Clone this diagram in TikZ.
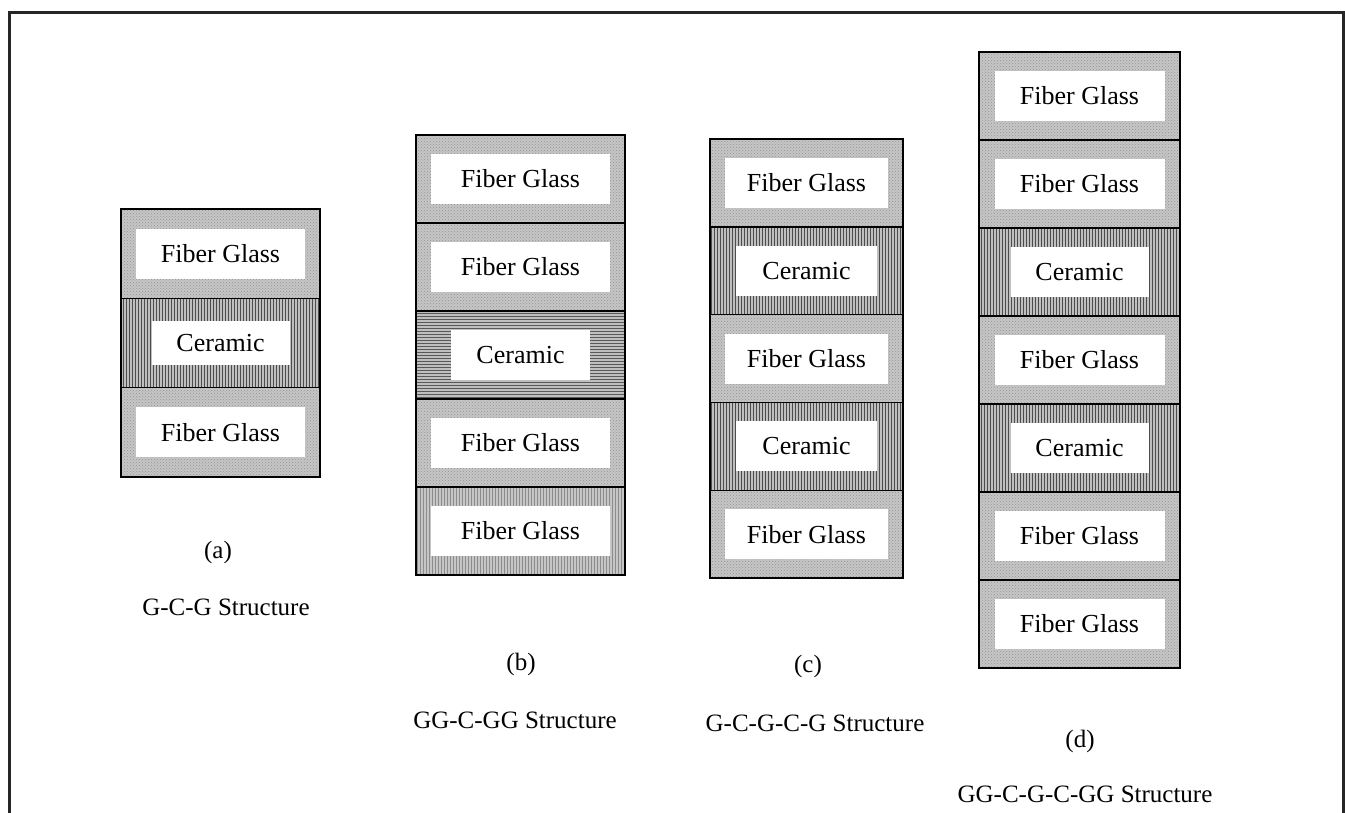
\documentclass[tikz,border=0pt]{standalone}
\usepackage{fontspec}
\setmainfont{Liberation Serif}
\usetikzlibrary{patterns}

\tikzset{
  layerbase/.style={draw=black, line width=1.4pt, inner sep=0pt, anchor=center},
  fg/.style={layerbase, preaction={fill=gray!45}, pattern=crosshatch dots, pattern color=gray!85},
  cr/.style={layerbase, preaction={fill=gray!50}, pattern=vertical lines, pattern color=black!70},
  crh/.style={layerbase, preaction={fill=gray!50}, pattern=horizontal lines, pattern color=black!65},
  fgv/.style={layerbase, preaction={fill=gray!45}, pattern=vertical lines, pattern color=gray!90},
  lblfg/.style={fill=white, inner sep=0pt, font=\fontsize{26}{30}\selectfont},
  caption/.style={inner sep=0pt, font=\fontsize{25}{30}\selectfont}
}

\begin{document}
\begin{tikzpicture}[x=1pt, y=-1pt]
  \useasboundingbox (0,0) rectangle (1345,812);
  \clip (0,0) rectangle (1345,812);
  % outer frame (its lower edge runs below the page)
  \draw[line width=3pt, draw=black!85] (9,12) rectangle (1343,840);

  % (a) G-C-G
  \foreach \i/\kind/\lw/\lh/\txt in {0/fg/169/50/Fiber Glass, 1/cr/138/44/Ceramic, 2/fg/169/50/Fiber Glass} {
    \node[\kind, minimum width=199pt, minimum height=89.3pt] (a\i) at (220.5, {209+89.3*\i+44.65}) {};
    \node[lblfg, minimum width=\lw pt, minimum height=\lh pt] (a\i t) at (a\i.center) {\txt};
  }
  \node[caption] (acap) at (218,552) {(a)};
  \node[caption] (aname) at (226,607) {G-C-G Structure};

  % (b) GG-C-GG
  \foreach \i/\kind/\lw/\lh/\txt in {0/fg/179/50/Fiber Glass, 1/fg/179/50/Fiber Glass, 2/crh/139/50/Ceramic, 3/fg/179/50/Fiber Glass, 4/fgv/179/50/Fiber Glass} {
    \node[\kind, minimum width=209pt, minimum height=88pt] (b\i) at (520.5, {135+88*\i+44}) {};
    \node[lblfg, minimum width=\lw pt, minimum height=\lh pt] (b\i t) at (b\i.center) {\txt};
  }
  \node[caption] (bcap) at (521,664) {(b)};
  \node[caption] (bname) at (515,720) {GG-C-GG Structure};

  % (c) G-C-G-C-G
  \foreach \i/\kind/\lw/\lh/\txt in {0/fg/163/50/Fiber Glass, 1/cr/141/50/Ceramic, 2/fg/163/50/Fiber Glass, 3/cr/141/50/Ceramic, 4/fg/163/50/Fiber Glass} {
    \node[\kind, minimum width=193pt, minimum height=87.8pt] (c\i) at (806.5, {139+87.8*\i+43.9}) {};
    \node[lblfg, minimum width=\lw pt, minimum height=\lh pt] (c\i t) at (c\i.center) {\txt};
  }
  \node[caption] (ccap) at (808,666) {(c)};
  \node[caption] (cname) at (815,723) {G-C-G-C-G Structure};

  % (d) GG-C-G-C-GG
  \foreach \i/\kind/\lw/\lh/\txt in {0/fg/170/50/Fiber Glass, 1/fg/170/50/Fiber Glass, 2/cr/138/50/Ceramic, 3/fg/170/50/Fiber Glass, 4/cr/138/50/Ceramic, 5/fg/170/50/Fiber Glass, 6/fg/170/50/Fiber Glass} {
    \node[\kind, minimum width=201pt, minimum height=88pt] (d\i) at (1079.5, {52+88*\i+44}) {};
    \node[lblfg, minimum width=\lw pt, minimum height=\lh pt] (d\i t) at (d\i.center) {\txt};
  }
  \node[caption] (dcap) at (1080,741) {(d)};
  \node[caption] (dname) at (1085,794) {GG-C-G-C-GG Structure};
\end{tikzpicture}
\end{document}
